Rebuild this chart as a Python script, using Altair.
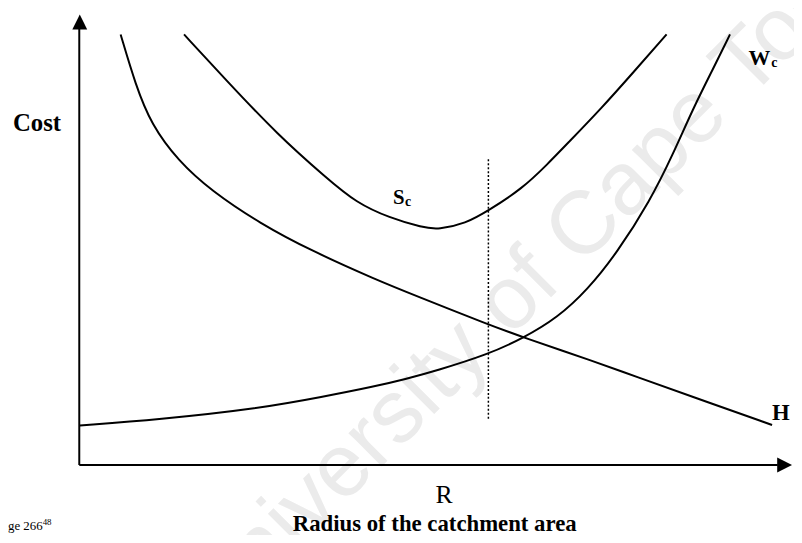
import altair as alt
import pandas as pd

# ---- data (x = radius, y = cost, both 0..100) ----
radius_H = [5.8, 7.9, 10.1, 13.9, 18.5, 25.4, 32.4, 41.7, 47.2, 57.4, 62.2, 72.2, 78.2, 86.1, 97.2]
cost_H = [95.6, 84.4, 75.6, 67.5, 60.9, 53.6, 47.7, 41.1, 37.6, 31.2, 28.4, 23.0, 19.6, 15.1, 8.9]

radius_W = [0.1, 11.1, 25.0, 34.3, 41.3, 45.8, 50.0, 57.4, 62.2, 67.1, 71.3, 75.4, 80.1, 83.3, 86.1, 88.9, 91.3]
cost_W = [8.8, 10.1, 12.5, 15.2, 17.4, 19.1, 20.9, 24.6, 28.1, 32.7, 38.9, 47.0, 58.7, 69.0, 79.1, 87.9, 95.6]

radius_S = [14.7, 20.8, 27.8, 34.7, 38.9, 43.5, 48.2, 50.4, 54.2, 57.4, 62.1, 65.7, 68.5, 73.2, 77.8, 82.4]
cost_S = [95.6, 85.1, 73.4, 63.7, 58.2, 54.9, 52.7, 52.3, 53.6, 56.5, 61.3, 66.8, 71.4, 79.1, 87.3, 95.6]

optimum_radius = 57.4
optimum_cost_range = [10.3, 67.9]

curve_labels = ["S", "W", "H"]
curve_label_x = [44.0, 93.9, 97.2]
curve_label_y = [58.0, 88.8, 9.9]
sub_labels = ["c", "c"]
sub_label_x = [45.7, 97.1]
sub_label_y = [57.4, 88.3]

axis_end = 98.0
y_axis_end = 97.0

watermark_text = "University of Cape Town"

# ---- tables ----
curves = pd.concat([
    pd.DataFrame({"radius": radius_H, "cost": cost_H, "curve": "H"}),
    pd.DataFrame({"radius": radius_W, "cost": cost_W, "curve": "W"}),
    pd.DataFrame({"radius": radius_S, "cost": cost_S, "curve": "S"}),
], ignore_index=True)

xs = alt.Scale(domain=[0, 100], nice=False, zero=False)
ys = alt.Scale(domain=[0, 100], nice=False, zero=False)
X = lambda f: alt.X(f, scale=xs, axis=None)
Y = lambda f: alt.Y(f, scale=ys, axis=None)

serif = "Liberation Serif"

watermark = alt.Chart(pd.DataFrame({"t": [watermark_text]})).mark_text(
    angle=315, fontSize=90, font="Liberation Sans", color="#ebebeb",
    align="center", baseline="middle"
).encode(x=alt.value(462), y=alt.value(262), text="t:N")

lines = alt.Chart(curves).mark_line(
    color="black", strokeWidth=2, interpolate="basis"
).encode(x=X("radius:Q"), y=Y("cost:Q"), detail="curve:N")

dotted = alt.Chart(pd.DataFrame({
    "x": [optimum_radius], "y": [optimum_cost_range[0]], "y2": [optimum_cost_range[1]]
})).mark_rule(color="black", strokeWidth=1.5, strokeDash=[2, 2]).encode(
    x=X("x:Q"), y=Y("y:Q"), y2="y2:Q")

axes = alt.Chart(pd.DataFrame({
    "x": [0, 0], "x2": [0, axis_end], "y": [0, 0], "y2": [y_axis_end, 0]
})).mark_rule(color="black", strokeWidth=2).encode(
    x=X("x:Q"), x2="x2:Q", y=Y("y:Q"), y2="y2:Q")

arrow_up = alt.Chart(pd.DataFrame({"x": [0.07], "y": [98.35]})).mark_point(
    shape="M0,-1L1,1L-1,1Z", filled=True, size=225, color="black", opacity=1
).encode(x=X("x:Q"), y=Y("y:Q"))

arrow_right = alt.Chart(pd.DataFrame({"x": [98.96], "y": [0]})).mark_point(
    shape="M1,0L-1,-1L-1,1Z", filled=True, size=225, color="black", opacity=1
).encode(x=X("x:Q"), y=Y("y:Q"))

main_labels = alt.Chart(pd.DataFrame({
    "t": curve_labels, "x": curve_label_x, "y": curve_label_y,
    "fs": [21, 22, 23]
})).mark_text(font=serif, fontWeight="bold", align="left", baseline="alphabetic",
              color="black").encode(
    x=X("x:Q"), y=Y("y:Q"), text="t:N",
    size=alt.Size("fs:Q", scale=None, legend=None))

subs = alt.Chart(pd.DataFrame({"t": sub_labels, "x": sub_label_x, "y": sub_label_y})).mark_text(
    font=serif, fontWeight="bold", fontSize=14, align="left", baseline="alphabetic",
    color="black").encode(x=X("x:Q"), y=Y("y:Q"), text="t:N")

cost_title = alt.Chart(pd.DataFrame({"t": ["Cost"]})).mark_text(
    font=serif, fontWeight="bold", fontSize=25, align="left", baseline="alphabetic",
    color="black").encode(x=alt.value(-67), y=alt.value(118), text="t:N")

x_title = alt.Chart(pd.DataFrame({"t": ["Radius of the catchment area"]})).mark_text(
    font=serif, fontWeight="bold", fontSize=23, align="center", baseline="alphabetic",
    color="black").encode(x=alt.value(359), y=alt.value(522), text="t:N")

r_label = alt.Chart(pd.DataFrame({"t": ["R"]})).mark_text(
    font=serif, fontSize=26, align="center", baseline="alphabetic",
    color="black").encode(x=alt.value(368.5), y=alt.value(493), text="t:N")

page_note = alt.Chart(pd.DataFrame({"t": ["ge 266"]})).mark_text(
    font=serif, fontSize=13, align="left", baseline="alphabetic",
    color="black").encode(x=alt.value(-72), y=alt.value(521), text="t:N")

page_sup = alt.Chart(pd.DataFrame({"t": ["48"]})).mark_text(
    font=serif, fontSize=9, align="left", baseline="alphabetic",
    color="black").encode(x=alt.value(-37), y=alt.value(516), text="t:N")

chart = alt.layer(
    watermark, lines, dotted, axes, arrow_up, arrow_right,
    main_labels, subs, cost_title, x_title, r_label, page_note, page_sup
).properties(
    width=720, height=455,
    autosize=alt.AutoSizeParams(type="none"),
    padding={"left": 72, "top": 4, "right": 2, "bottom": 68},
    background="white"
).configure_view(stroke=None)

chart.save("out.html", embed_options={"renderer": "svg", "actions": False})
